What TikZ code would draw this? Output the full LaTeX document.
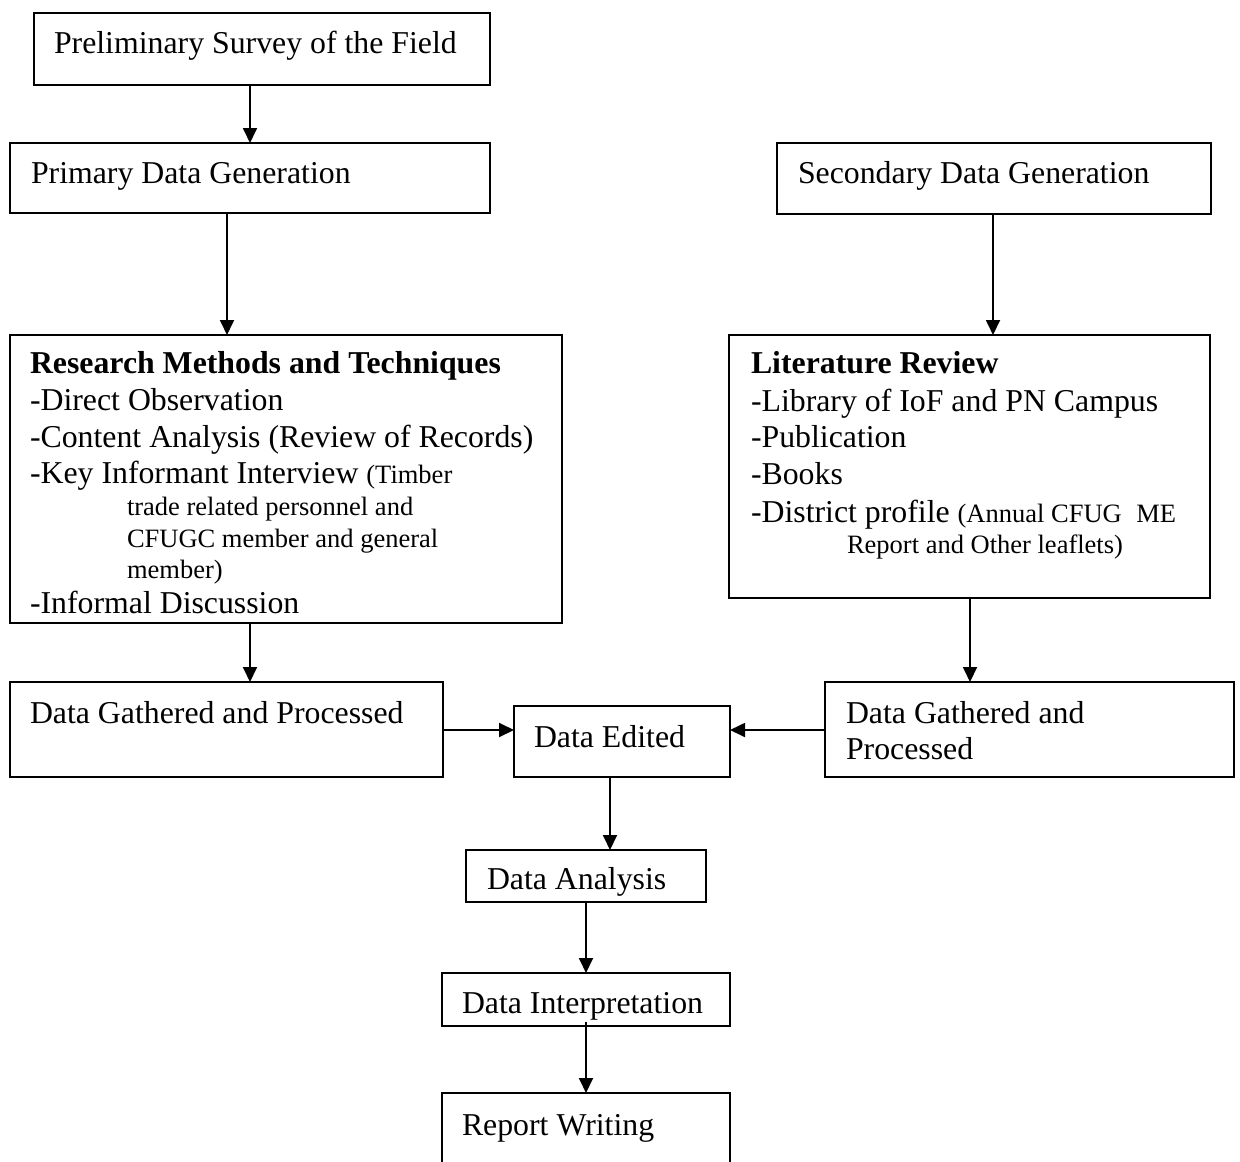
\documentclass[tikz,border=0pt]{standalone}
\usepackage{fontspec}
\setmainfont{Liberation Serif}
\usetikzlibrary{arrows.meta,fit}
\newcommand{\smalltxt}{\fontsize{13.25pt}{15.5pt}\selectfont}
\begin{document}
\begin{tikzpicture}[x=0.5pt,y=-0.5pt,
  box/.style={draw,line width=0.9pt,inner sep=0pt,outer sep=0pt},
  txt/.style={anchor=base west,inner sep=0pt,outer sep=0pt,font=\fontsize{15.9pt}{18pt}\selectfont},
  stxt/.style={anchor=base west,inner sep=0pt,outer sep=0pt,font=\smalltxt},
  arr/.style={line width=0.9pt,-{Triangle[length=7.5pt,width=7pt]}}]
\useasboundingbox (0,0) rectangle (1240,1161);
% boxes
\node[box,fit={(34,13)(490,85)}] (prelim) {};
\node[box,fit={(10,143)(490,213)}] (primary) {};
\node[box,fit={(777,143)(1211,214)}] (secondary) {};
\node[box,fit={(10,335)(562,623)}] (research) {};
\node[box,fit={(729,335)(1210,598)}] (lit) {};
\node[box,fit={(10,682)(443,777)}] (gathL) {};
\node[box,fit={(825,682)(1234,777)}] (gathR) {};
\node[box,fit={(514,706)(730,777)}] (edited) {};
\node[box,fit={(466,850)(706,902)}] (analysis) {};
\node[box,fit={(442,973)(730,1026)}] (interp) {};
\node[box,fit={(442,1093)(730,1200)}] (report) {};
% texts
\node[txt] (prelimT) at (54,54) {Preliminary Survey of the Field};
\node[txt] (primaryT) at (31,183) {Primary Data Generation};
\node[txt] (secondaryT) at (798,183) {Secondary Data Generation};
\node[txt] (resT1) at (30,373) {\bfseries Research Methods and Techniques};
\node[txt] (resT2) at (30,410) {-Direct Observation};
\node[txt] (resT3) at (30,447) {-Content Analysis (Review of Records)};
\node[txt] (resT4) at (30,483) {-Key Informant Interview {\smalltxt(Timber}};
\node[stxt] (resT5) at (127,515) {trade related personnel and};
\node[stxt] (resT6) at (127,547) {CFUGC member and general};
\node[stxt] (resT7) at (127,578) {member)};
\node[txt] (resT8) at (30,613) {-Informal Discussion};
\node[txt] (litT1) at (751,373) {\bfseries Literature Review};
\node[txt] (litT2) at (751,411) {-Library of IoF and PN Campus};
\node[txt] (litT3) at (751,447) {-Publication};
\node[txt] (litT4) at (751,484) {-Books};
\node[txt] (litT5) at (751,522) {-District profile {\smalltxt(Annual CFUG\hspace{0.55em}ME}};
\node[stxt] (litT6) at (847,553) {Report and Other leaflets)};
\node[txt] (gathLT) at (30,723) {Data Gathered and Processed};
\node[txt] (gathRT1) at (846,723) {Data Gathered and};
\node[txt] (gathRT2) at (846,759) {Processed};
\node[txt] (editedT) at (534,747) {Data Edited};
\node[txt] (analysisT) at (487,889) {Data Analysis};
\node[txt] (interpT) at (462,1013) {Data Interpretation};
\node[txt] (reportT) at (462,1135) {Report Writing};
% x / y guides
\coordinate (xa) at (250,0);
\coordinate (xb) at (227,0);
\coordinate (xc) at (993,0);
\coordinate (xd) at (970,0);
\coordinate (xe) at (610,0);
\coordinate (xf) at (586,0);
\coordinate (ya) at (0,730);
\coordinate (istart) at (586,1022);
% connectors
\draw[arr] (prelim.south -| xa) -- (primary.north -| xa);
\draw[arr] (primary.south -| xb) -- (research.north -| xb);
\draw[arr] (secondary.south -| xc) -- (lit.north -| xc);
\draw[arr] (research.south -| xa) -- (gathL.north -| xa);
\draw[arr] (lit.south -| xd) -- (gathR.north -| xd);
\draw[arr] (gathL.east |- ya) -- (edited.west |- ya);
\draw[arr] (gathR.west |- ya) -- (edited.east |- ya);
\draw[arr] (edited.south -| xe) -- (analysis.north -| xe);
\draw[arr] (analysis.south -| xf) -- (interp.north -| xf);
\draw[arr] (istart) -- (report.north -| xf);
\end{tikzpicture}
\end{document}
